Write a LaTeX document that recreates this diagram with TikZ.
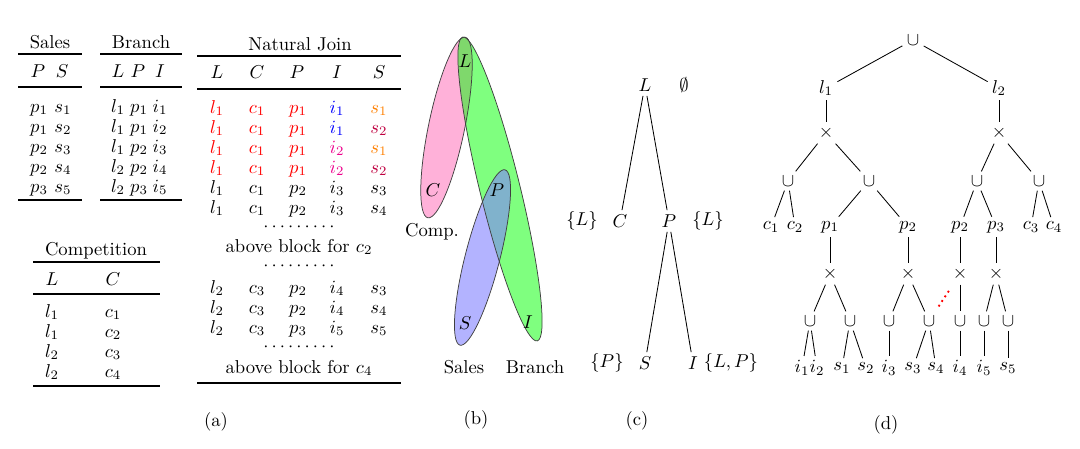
\documentclass[tikz,border=0pt]{standalone}
\usepackage{amssymb}
\definecolor{pinkc}{RGB}{255,100,180}
\begin{document}
\begin{tikzpicture}[x=0.537pt,y=-0.537pt]
\tikzset{
  cell/.style={inner sep=0pt, text height=1.5ex, text depth=.25ex},
  toprl/.style={line width=1pt},
  midrl/.style={line width=0.6pt},
  tn/.style={inner sep=2.2pt},
  edge/.style={line width=0.45pt},
  ell/.style={draw=black!75, line width=0.4pt},
}
\useasboundingbox (0,0) rectangle (1080,449);

% ---------------- (a) Sales
\node[cell] (salesT) at (50,43) {Sales};
\draw[toprl] (18,54) -- (82,54);
\node[cell] (salesP) at (38,72) {$P$};
\node[cell] (salesS) at (62,72) {$S$};
\draw[midrl] (18,87) -- (82,87);
\foreach \p/\s [count=\i] in {1/1,1/2,2/3,2/4,3/5}{
  \node[cell] (sp\i) at (39,87+20*\i) {$p_{\p}$};
  \node[cell] (ss\i) at (63,87+20*\i) {$s_{\s}$};
}
\draw[toprl] (18,200) -- (82,200);

% ---------------- (a) Branch
\node[cell] (brT) at (141,43) {Branch};
\draw[toprl] (100,54) -- (182,54);
\node[cell] (brL) at (118,72) {$L$};
\node[cell] (brP) at (138,72) {$P$};
\node[cell] (brI) at (160,72) {$I$};
\draw[midrl] (100,87) -- (182,87);
\foreach \l/\p/\ii [count=\i] in {1/1/1,1/1/2,1/2/3,2/2/4,2/3/5}{
  \node[cell] (bl\i) at (118,87+20*\i) {$l_{\l}$};
  \node[cell] (bp\i) at (139,87+20*\i) {$p_{\p}$};
  \node[cell] (bi\i) at (160,87+20*\i) {$i_{\ii}$};
}
\draw[toprl] (100,200) -- (182,200);

% ---------------- (a) Natural Join
\node[cell] (njT) at (300,45) {Natural Join};
\draw[toprl] (197,56) -- (401,56);
\node[cell] (njhL) at (217,73) {$L$};
\node[cell] (njhC) at (257,73) {$C$};
\node[cell] (njhP) at (297,73) {$P$};
\node[cell] (njhI) at (337,73) {$I$};
\node[cell] (njhS) at (379,73) {$S$};
\draw[midrl] (197,89) -- (401,89);
\foreach \y/\l/\c/\p/\ii/\s/\ka/\ki/\ks [count=\k] in {
  108/1/1/1/1/1/red/blue/orange,
  128/1/1/1/1/2/red/blue/purple,
  148/1/1/1/2/1/red/magenta/orange,
  168/1/1/1/2/2/red/magenta/purple,
  188/1/1/2/3/3/black/black/black,
  208/1/1/2/3/4/black/black/black,
  288/2/3/2/4/3/black/black/black,
  308/2/3/2/4/4/black/black/black,
  328/2/3/3/5/5/black/black/black}{
  \node[cell,text=\ka] (njl\k) at (217,\y) {$l_{\l}$};
  \node[cell,text=\ka] (njc\k) at (257,\y) {$c_{\c}$};
  \node[cell,text=\ka] (njp\k) at (298,\y) {$p_{\p}$};
  \node[cell,text=\ki] (nji\k) at (337,\y) {$i_{\ii}$};
  \node[cell,text=\ks] (njs\k) at (379,\y) {$s_{\s}$};
}
\node[inner sep=0pt] (dots1) at (299,227) {$\cdots\cdots\cdots$};
\node[cell] (blk2) at (299,247) {above block for $c_2$};
\node[inner sep=0pt] (dots2) at (299,266) {$\cdots\cdots\cdots$};
\node[inner sep=0pt] (dots3) at (299,347) {$\cdots\cdots\cdots$};
\node[cell] (blk4) at (299,368) {above block for $c_4$};
\draw[toprl] (197,383) -- (401,383);

% ---------------- (a) Competition
\node[cell] (coT) at (96,250) {Competition};
\draw[toprl] (33,262) -- (160,262);
\node[cell] (coL) at (52,280) {$L$};
\node[cell] (coC) at (113,280) {$C$};
\draw[midrl] (33,294) -- (160,294);
\foreach \l/\c [count=\i] in {1/1,1/2,2/3,2/4}{
  \node[cell] (col\i) at (52,292+20*\i) {$l_{\l}$};
  \node[cell] (coc\i) at (113,292+20*\i) {$c_{\c}$};
}
\draw[toprl] (33,386) -- (160,386);
\node[cell] (capa) at (216,421) {(a)};

% ---------------- (b) hypergraph
\fill[pinkc, fill opacity=0.5] (446.5,127.5) ellipse [x radius=49.5pt, y radius=9.7pt, rotate=78.3];
\fill[green, fill opacity=0.5] (500,189) ellipse [x radius=84pt, y radius=10.8pt, rotate=-76.2];
\fill[blue!50, fill opacity=0.6] (482.5,257.5) ellipse [x radius=48.6pt, y radius=9.3pt, rotate=75.6];
\draw[ell] (446.5,127.5) ellipse [x radius=49.5pt, y radius=9.7pt, rotate=78.3];
\draw[ell] (500,189) ellipse [x radius=84pt, y radius=10.8pt, rotate=-76.2];
\draw[ell] (482.5,257.5) ellipse [x radius=48.6pt, y radius=9.3pt, rotate=75.6];
\node[cell] (bL) at (465,62) {$L$};
\node[cell] (bC) at (433,191) {$C$};
\node[cell] (bP) at (497,191) {$P$};
\node[cell] (bS) at (465,324) {$S$};
\node[cell] (bI) at (528,323) {$I$};
\node[cell] (bcomp) at (432,231) {Comp.};
\node[cell] (bsales) at (464,368) {Sales};
\node[cell] (bbranch) at (535,368) {Branch};
\node[cell] (capb) at (476,419) {(b)};

% ---------------- (c) join tree
\node[tn] (cL) at (645,85) {$L$};
\node[tn] (cE) at (684,85) {$\emptyset$};
\node[tn] (cC) at (620,221) {$C$};
\node[tn] (cCl) at (582,221) {$\{L\}$};
\node[tn] (cP) at (669,221) {$P$};
\node[tn] (cPl) at (708,221) {$\{L\}$};
\node[tn] (cS) at (645,363) {$S$};
\node[tn] (cSl) at (607,363) {$\{P\}$};
\node[tn] (cI) at (693,363) {$I$};
\node[tn] (cIl) at (731,363) {$\{L,P\}$};
\draw[edge] (cL) -- (cC);
\draw[edge] (cL) -- (cP);
\draw[edge] (cP) -- (cS);
\draw[edge] (cP) -- (cI);
\node[cell] (capc) at (637,420) {(c)};

% ---------------- (d) d-tree
\node[tn] (droot) at (913,40) {$\cup$};
\node[tn] (dl1) at (826,88) {$l_1$};
\node[tn] (dl2) at (999,88) {$l_2$};
\node[tn] (dx1) at (826,133) {$\times$};
\node[tn] (dx2) at (999,133) {$\times$};
\node[tn] (dua) at (788,181) {$\cup$};
\node[tn] (dub) at (869,181) {$\cup$};
\node[tn] (duc) at (977,181) {$\cup$};
\node[tn] (dud) at (1039,181) {$\cup$};
\node[tn] (dc1) at (771,227) {$c_1$};
\node[tn] (dc2) at (795,227) {$c_2$};
\node[tn] (dp1) at (830,227) {$p_1$};
\node[tn] (dp2) at (908,227) {$p_2$};
\node[tn] (dp2b) at (960,227) {$p_2$};
\node[tn] (dp3) at (996,227) {$p_3$};
\node[tn] (dc3) at (1031,227) {$c_3$};
\node[tn] (dc4) at (1054,227) {$c_4$};
\node[tn] (dx3) at (830,274) {$\times$};
\node[tn] (dx4) at (908,274) {$\times$};
\node[tn] (dx5) at (960,274) {$\times$};
\node[tn] (dx6) at (996,274) {$\times$};
\node[tn] (du1) at (810,321) {$\cup$};
\node[tn] (du2) at (850,321) {$\cup$};
\node[tn] (du3) at (889,321) {$\cup$};
\node[tn] (du4) at (929,321) {$\cup$};
\node[tn] (du5) at (960,321) {$\cup$};
\node[tn] (du6) at (984,321) {$\cup$};
\node[tn] (du7) at (1008,321) {$\cup$};
\node[tn] (di1) at (802,368) {$i_1$};
\node[tn] (di2) at (817,368) {$i_2$};
\node[tn] (ds1) at (842,368) {$s_1$};
\node[tn] (ds2) at (866,368) {$s_2$};
\node[tn] (di3) at (889,368) {$i_3$};
\node[tn] (ds3) at (913,368) {$s_3$};
\node[tn] (ds4) at (936,368) {$s_4$};
\node[tn] (di4) at (960,368) {$i_4$};
\node[tn] (di5) at (984,368) {$i_5$};
\node[tn] (ds5) at (1008,368) {$s_5$};
\foreach \a/\b in {droot/dl1, droot/dl2, dl1/dx1, dl2/dx2,
  dx1/dua, dx1/dub, dx2/duc, dx2/dud,
  dua/dc1, dua/dc2, dub/dp1, dub/dp2, duc/dp2b, duc/dp3, dud/dc3, dud/dc4,
  dp1/dx3, dp2/dx4, dp2b/dx5, dp3/dx6,
  dx3/du1, dx3/du2, dx4/du3, dx4/du4, dx5/du5, dx6/du6, dx6/du7,
  du1/di1, du1/di2, du2/ds1, du2/ds2, du3/di3, du4/ds3, du4/ds4,
  du5/di4, du6/di5, du7/ds5}{
  \draw[edge] (\a) -- (\b);
}
\draw[red, dotted, line width=1pt, shorten >=2pt, shorten <=4pt] (dx5) -- (du4);
\node[cell] (capd) at (886,424) {(d)};
\end{tikzpicture}
\end{document}
